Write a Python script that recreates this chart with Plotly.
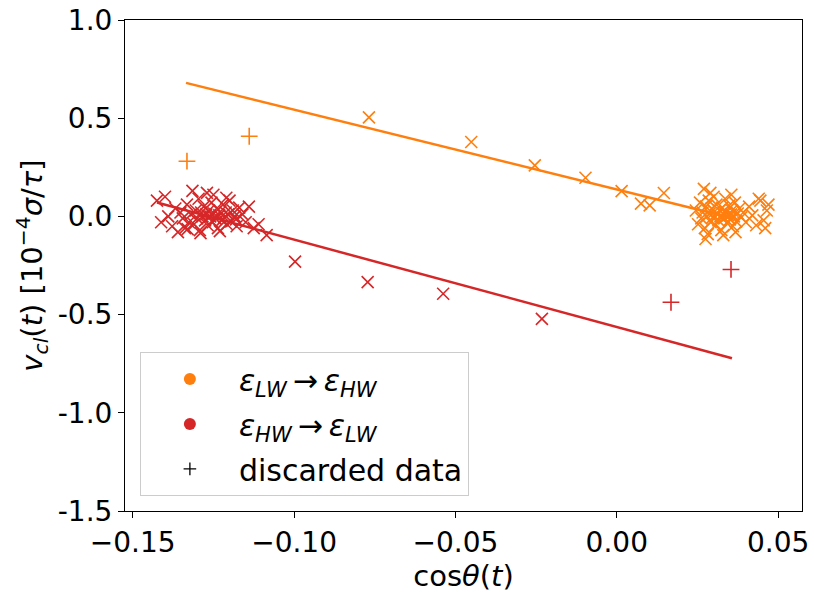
import plotly.graph_objects as go

# ---- data ----
orange_x = [-0.0768, -0.0451, -0.0254, -0.0097, 0.0015, 0.0075, 0.0102, 0.0146]
orange_y = [0.504, 0.379, 0.260, 0.197, 0.129, 0.065, 0.056, 0.119]

orange_cl_x = [0.0245, 0.0252, 0.0258, 0.0262, 0.0266, 0.0270, 0.0273, 0.0276, 0.0279, 0.0282,
               0.0285, 0.0288, 0.0291, 0.0294, 0.0297, 0.0300, 0.0303, 0.0306, 0.0309, 0.0312,
               0.0315, 0.0318, 0.0321, 0.0324, 0.0327, 0.0330, 0.0333, 0.0336, 0.0339, 0.0342,
               0.0345, 0.0348, 0.0351, 0.0354, 0.0357, 0.0360, 0.0363, 0.0366, 0.0370, 0.0375,
               0.0380, 0.0386, 0.0392, 0.0400, 0.0410, 0.0420, 0.0432, 0.0445, 0.0455, 0.0465,
               0.0470, 0.0275, 0.0290, 0.0330, 0.0355, 0.0368, 0.0440, 0.0460]
orange_cl_y = [0.030, -0.040, 0.070, -0.010, 0.020, 0.140, -0.060, 0.050, 0.000, -0.090,
               0.080, 0.015, -0.030, 0.040, -0.005, 0.100, 0.025, -0.045, 0.060, 0.010,
               -0.020, 0.030, 0.000, -0.070, 0.045, 0.015, -0.010, 0.090, 0.020, -0.035,
               0.005, 0.055, -0.015, 0.010, 0.030, -0.050, 0.000, 0.070, -0.025, 0.015,
               0.040, -0.005, 0.020, -0.030, 0.050, 0.005, -0.045, 0.080, -0.020, 0.030,
               0.060, -0.115, 0.120, -0.095, 0.110, -0.080, 0.090, -0.060]

red_x = [-0.0997, -0.0772, -0.0538, -0.0232]
red_y = [-0.230, -0.335, -0.394, -0.522]

red_cl_x = [-0.1425, -0.1412, -0.1400, -0.1390, -0.1378, -0.1368, -0.1360, -0.1352, -0.1345, -0.1338,
            -0.1332, -0.1326, -0.1320, -0.1315, -0.1310, -0.1305, -0.1300, -0.1296, -0.1292, -0.1288,
            -0.1284, -0.1280, -0.1276, -0.1272, -0.1268, -0.1264, -0.1260, -0.1256, -0.1252, -0.1248,
            -0.1244, -0.1240, -0.1236, -0.1232, -0.1228, -0.1224, -0.1220, -0.1216, -0.1212, -0.1208,
            -0.1204, -0.1200, -0.1195, -0.1190, -0.1184, -0.1178, -0.1170, -0.1160, -0.1150, -0.1140,
            -0.1125, -0.1110, -0.1085, -0.1290, -0.1250, -0.1230, -0.1330, -0.1210, -0.1270, -0.1180]
red_cl_y = [0.080, -0.030, 0.100, 0.000, -0.050, 0.040, -0.080, 0.020, -0.010, -0.060,
            0.060, -0.030, 0.010, 0.130, -0.040, 0.030, -0.010, 0.090, -0.070, 0.020,
            0.000, 0.050, -0.020, 0.010, -0.045, 0.030, 0.000, 0.070, -0.030, 0.015,
            -0.010, 0.040, -0.060, 0.005, 0.025, -0.020, 0.060, -0.005, 0.020, -0.040,
            0.010, 0.080, -0.025, 0.030, 0.000, -0.050, 0.045, 0.010, -0.030, 0.050,
            -0.060, -0.040, -0.095, -0.085, 0.110, -0.075, -0.065, 0.095, 0.120, -0.015]

disc_orange_x = [-0.1332, -0.1139]
disc_orange_y = [0.281, 0.408]
disc_red_x = [0.0168, 0.0354]
disc_red_y = [-0.437, -0.270]

fit_orange_x = [-0.1335, 0.0360]
fit_orange_y = [0.680, -0.009]
fit_red_x = [-0.1425, 0.0357]
fit_red_y = [0.071, -0.722]

ytick_vals = [1.0, 0.5, 0.0, -0.5, -1.0, -1.5]
ytick_text = ["1.0", "0.5", "0.0", "-0.5", "-1.0", "-1.5"]
xtick_vals = [-0.15, -0.10, -0.05, 0.00, 0.05]
xtick_text = ["\u22120.15", "\u22120.10", "\u22120.05", "0.00", "0.05"]

ORANGE = "#ff7f0e"
RED = "#d62728"
FONT = "DejaVu Sans"

fig = go.Figure()

xmk = dict(symbol="x-thin-open", size=12, line=dict(width=1.6))
pmk = dict(symbol="cross-thin-open", size=12, line=dict(width=1.6))

fig.add_trace(go.Scatter(x=orange_x + orange_cl_x, y=orange_y + orange_cl_y, mode="markers",
                         marker=dict(color=ORANGE, line_color=ORANGE, **xmk), showlegend=False))
fig.add_trace(go.Scatter(x=red_x + red_cl_x, y=red_y + red_cl_y, mode="markers",
                         marker=dict(color=RED, line_color=RED, **xmk), showlegend=False))
fig.add_trace(go.Scatter(x=disc_orange_x, y=disc_orange_y, mode="markers",
                         marker=dict(color=ORANGE, line_color=ORANGE, **pmk), showlegend=False))
fig.add_trace(go.Scatter(x=disc_red_x, y=disc_red_y, mode="markers",
                         marker=dict(color=RED, line_color=RED, **pmk), showlegend=False))
fig.add_trace(go.Scatter(x=fit_orange_x, y=fit_orange_y, mode="lines",
                         line=dict(color=ORANGE, width=2.5), showlegend=False))
fig.add_trace(go.Scatter(x=fit_red_x, y=fit_red_y, mode="lines",
                         line=dict(color=RED, width=2.5), showlegend=False))

fig.add_trace(go.Scatter(x=[None], y=[None], mode="markers", legendgroup="a",
                         marker=dict(symbol="circle", size=12, color=ORANGE),
                         name="<i>\u03b5<sub>LW</sub></i>\u2009\u2192\u2009<i>\u03b5<sub>HW</sub></i>"))
fig.add_trace(go.Scatter(x=[None], y=[None], mode="markers", legendgroup="b",
                         marker=dict(symbol="circle", size=12, color=RED),
                         name="<i>\u03b5<sub>HW</sub></i>\u2009\u2192\u2009<i>\u03b5<sub>LW</sub></i>"))
fig.add_trace(go.Scatter(x=[None], y=[None], mode="markers", legendgroup="c",
                         marker=dict(symbol="cross-thin-open", size=9, color="black",
                                     line=dict(width=1.3, color="black")),
                         name="discarded data"))

fig.update_layout(
    width=814, height=594,
    margin=dict(l=125, r=12, t=20, b=83),
    plot_bgcolor="white", paper_bgcolor="white",
    font=dict(family=FONT, size=28, color="black"),
    legend=dict(x=0.022, y=0.324, xanchor="left", yanchor="top",
                bgcolor="white", bordercolor="#cccccc", borderwidth=1,
                font=dict(size=30), tracegroupgap=3, itemwidth=88),
    xaxis=dict(range=[-0.1524, 0.0574], tickvals=xtick_vals, ticktext=xtick_text,
               showline=True, linecolor="black", linewidth=1, mirror=True,
               ticks="outside", ticklen=6, tickcolor="black", showgrid=False, zeroline=False,
               tickfont=dict(size=28), automargin=False,
               title=dict(text="cos<i>\u03b8</i>(<i>t</i>)", standoff=6, font=dict(size=29))),
    yaxis=dict(range=[-1.5, 1.0], tickvals=ytick_vals, ticktext=ytick_text,
               showline=True, linecolor="black", linewidth=1, mirror=True,
               ticks="outside", ticklen=6, tickcolor="black", showgrid=False, zeroline=False,
               tickfont=dict(size=28), automargin=False,
               title=dict(text="<i>v<sub>cl</sub></i>(<i>t</i>) [10<sup>\u22124</sup><i>\u03c3</i>/<i>\u03c4</i>]",
                          standoff=6, font=dict(size=29))),
)

fig.write_html("out.html")
